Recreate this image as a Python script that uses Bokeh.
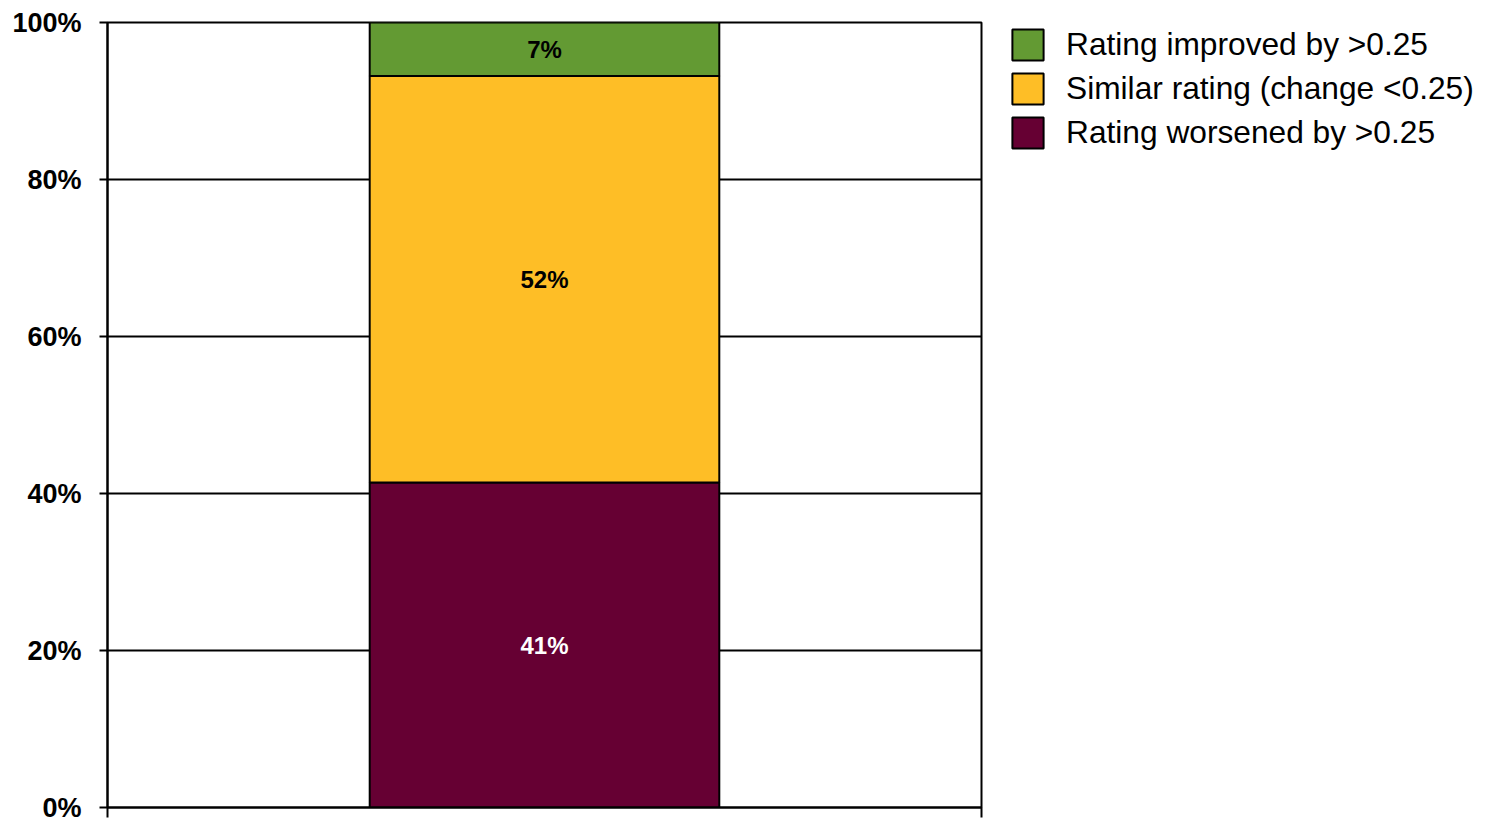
from bokeh.plotting import figure
from bokeh.layouts import row
from bokeh.models import (Range1d, FixedTicker, NumeralTickFormatter,
                          Legend, LegendItem, ColumnDataSource)
from bokeh.core.properties import value
from bokeh.embed import file_html
from bokeh.resources import INLINE

categories = ["All"]
worsened = [0.414]
similar = [0.518]
improved = [0.068]
series_keys = ["worsened", "similar", "improved"]
series_names = ["Rating worsened by >0.25", "Similar rating (change <0.25)", "Rating improved by >0.25"]
series_colors = ["#660033", "#FEBE26", "#639A33"]
label_colors = ["white", "black", "black"]
y_ticks = [0, 0.2, 0.4, 0.6, 0.8, 1.0]

FONT = "Liberation Sans"

n = len(categories)
xpos = [i + 0.5 for i in range(n)]
src = ColumnDataSource(dict(x=xpos, worsened=worsened, similar=similar, improved=improved))

p = figure(width=983, height=822, x_range=Range1d(0, n), y_range=Range1d(0, 1),
           output_backend="svg", toolbar_location=None,
           min_border_left=107, min_border_right=2, min_border_top=22, min_border_bottom=15)
p.background_fill_color = "white"
p.border_fill_color = "white"
p.outline_line_color = "black"
p.outline_line_width = 2

renderers = p.vbar_stack(series_keys, x="x", width=0.4, source=src,
                         color=series_colors, line_color="black", line_width=2)

# segment labels
stacks = [worsened, similar, improved]
bottom = [0.0] * n
for vals, col in zip(stacks, label_colors):
    mids = [b + v / 2 for b, v in zip(bottom, vals)]
    texts = ["%d%%" % round(v * 100) for v in vals]
    p.text(x=xpos, y=mids, text=texts, text_color=col, text_align="center",
           text_baseline="middle", text_font=value(FONT), text_font_style="bold",
           text_font_size="24px")
    bottom = [b + v for b, v in zip(bottom, vals)]

# y axis
p.yaxis.ticker = FixedTicker(ticks=y_ticks)
p.yaxis.formatter = NumeralTickFormatter(format="0%")
p.yaxis.major_label_text_font = FONT
p.yaxis.major_label_text_font_style = "bold"
p.yaxis.major_label_text_font_size = "27px"
p.yaxis.major_label_text_color = "black"
p.yaxis.major_tick_out = 8
p.yaxis.major_tick_in = 0
p.yaxis.minor_tick_line_color = None
p.yaxis.major_tick_line_color = "black"
p.yaxis.major_tick_line_width = 2
p.yaxis.axis_line_color = "black"
p.yaxis.axis_line_width = 2
p.yaxis.major_label_standoff = 18

p.ygrid.ticker = FixedTicker(ticks=y_ticks)
p.ygrid.grid_line_color = "black"
p.ygrid.grid_line_width = 2
p.xgrid.grid_line_color = None

# x axis: ticks at category boundaries, no labels
p.xaxis.ticker = FixedTicker(ticks=list(range(n + 1)))
p.xaxis.major_label_overrides = {i: "" for i in range(n + 1)}
p.xaxis.major_label_text_font_size = "1px"
p.xaxis.major_label_standoff = 0
p.xaxis.major_tick_out = 10
p.xaxis.major_tick_in = 0
p.xaxis.major_tick_line_color = "black"
p.xaxis.major_tick_line_width = 2
p.xaxis.minor_tick_line_color = None
p.xaxis.axis_line_color = "black"
p.xaxis.axis_line_width = 2

# legend panel (separate figure to the right); its swatch renderers are hidden
lg = figure(width=505, height=822, x_range=Range1d(0, 1), y_range=Range1d(0, 1),
            output_backend="svg", toolbar_location=None,
            x_axis_location=None, y_axis_location=None,
            min_border_left=22, min_border_right=0, min_border_top=22, min_border_bottom=15)
lg.outline_line_color = None
lg.xgrid.grid_line_color = None
lg.ygrid.grid_line_color = None
swatches = []
for key, c in zip(series_keys, series_colors):
    r = lg.vbar(x="x", top=key, width=0.1, source=src, fill_color=c,
                line_color="black", line_width=2)
    r.visible = False
    swatches.append(r)
items = [LegendItem(label=nm, renderers=[r]) for nm, r in zip(series_names, swatches)][::-1]
legend = Legend(items=items, location="top_left", padding=0, margin=3, spacing=5,
                glyph_width=39, glyph_height=39, label_standoff=19,
                label_text_font=FONT, label_text_font_size="31.7px", label_text_color="black",
                border_line_alpha=0, background_fill_alpha=0, inactive_fill_alpha=0)
lg.add_layout(legend, "center")

layout = row(p, lg, spacing=0)
open("out.html", "w").write(file_html(layout, INLINE))
